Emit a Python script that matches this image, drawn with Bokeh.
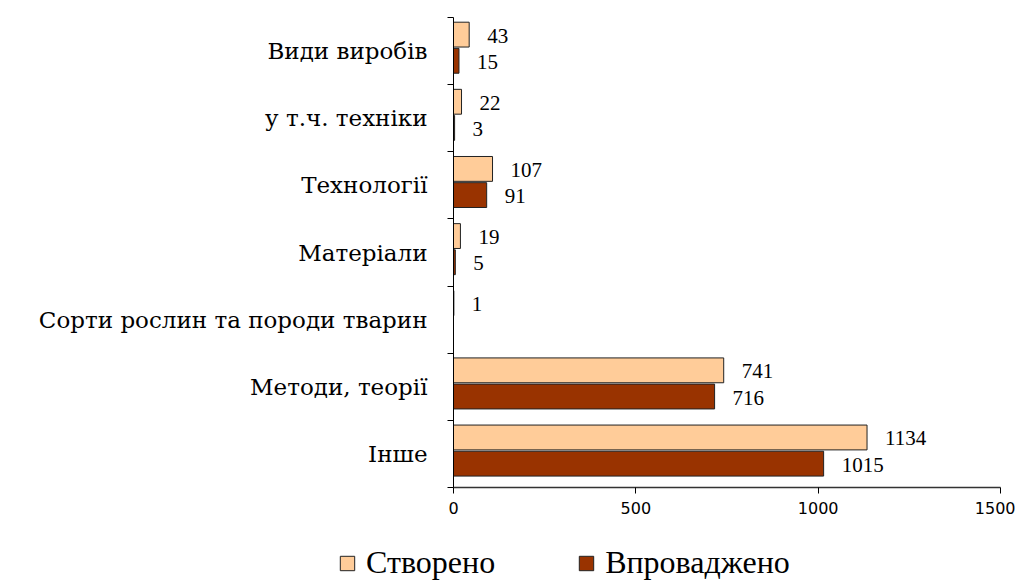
from bokeh.plotting import figure
from bokeh.layouts import column
from bokeh.models import ColumnDataSource, Range1d, FixedTicker, Legend, LegendItem
from bokeh.core.properties import value
from bokeh.embed import file_html
from bokeh.resources import INLINE

categories = ["Інше", "Методи, теорії", "Сорти рослин та породи тварин", "Матеріали",
              "Технології", "у т.ч. техніки", "Види виробів"]
created = [1134, 741, 1, 19, 107, 22, 43]
implemented = [1015, 716, 0, 5, 91, 3, 15]
x_ticks = [0, 500, 1000, 1500]
series_names = ["Створено", "Впроваджено"]
series_colors = ["#FFCC99", "#993300"]

pos = [i + 0.5 for i in range(len(categories))]

p = figure(width=1015, height=530, output_backend="svg", toolbar_location=None,
           x_range=Range1d(0, 1500), y_range=Range1d(0, len(categories)),
           min_border_left=453, min_border_right=15, min_border_top=17, min_border_bottom=43)
p.outline_line_color = None
p.grid.visible = False

src_c = ColumnDataSource(dict(y=[v + 0.245 for v in pos], x=created,
                              lab=[str(v) if v else "" for v in created]))
src_i = ColumnDataSource(dict(y=[v - 0.145 for v in pos], x=implemented,
                              lab=[str(v) if v else "" for v in implemented]))

p.hbar(y="y", right="x", left=0, height=0.37, source=src_c,
       fill_color=series_colors[0], line_color="#222222", line_width=1)
p.hbar(y="y", right="x", left=0, height=0.37, source=src_i,
       fill_color=series_colors[1], line_color="#222222", line_width=1)

for s in (src_c, src_i):
    p.text(x="x", y="y", text="lab", source=s, x_offset=18, y_offset=1, text_align="left",
           text_baseline="middle", text_font=value("Liberation Serif"), text_font_size="21px",
           text_color="black")

# axes
p.xaxis.ticker = FixedTicker(ticks=x_ticks)
p.xaxis.axis_line_color = "#333333"
p.xaxis.axis_line_width = 1.5
p.xaxis.major_tick_line_color = "black"
p.xaxis.major_tick_out = 6
p.xaxis.major_tick_in = 0
p.xaxis.minor_tick_line_color = None
p.xaxis.major_label_text_font = "DejaVu Sans"
p.xaxis.major_label_text_font_size = "16px"
p.xaxis.major_label_text_color = "black"
p.xaxis.major_label_standoff = 8

p.yaxis.ticker = FixedTicker(ticks=pos, minor_ticks=list(range(len(categories) + 1)))
p.yaxis.major_label_overrides = {v: c for v, c in zip(pos, categories)}
p.yaxis.major_tick_out = 0
p.yaxis.major_tick_in = 0
p.yaxis.minor_tick_out = 6
p.yaxis.minor_tick_in = 0
p.yaxis.minor_tick_line_color = "black"
p.yaxis.axis_line_color = "black"
p.yaxis.major_label_text_font = "DejaVu Serif"
p.yaxis.major_label_text_font_size = "23px"
p.yaxis.major_label_text_color = "black"
p.yaxis.major_label_standoff = 20

# legend strip
lg = figure(width=1015, height=51, output_backend="svg", toolbar_location=None,
            x_axis_type=None, y_axis_type=None, x_range=Range1d(0, 1), y_range=Range1d(0, 1),
            min_border=0)
lg.frame_align = False
lg.outline_line_color = None
lg.grid.visible = False
items = []
for name, col in zip(series_names, series_colors):
    r = lg.rect(x=[float("nan")], y=[float("nan")], width=1, height=1,
                fill_color=col, line_color="#222222")
    items.append(LegendItem(label=name, renderers=[r]))
legend = Legend(items=items, orientation="horizontal", location=(338, 0),
                label_text_font="Liberation Serif", label_text_font_size="32px",
                label_text_color="black", glyph_width=18, glyph_height=18,
                label_standoff=10, spacing=82, padding=0, margin=0,
                border_line_color=None, background_fill_alpha=0)
lg.add_layout(legend, "center")

open("out.html", "w").write(file_html(column(p, lg, spacing=0), INLINE))
